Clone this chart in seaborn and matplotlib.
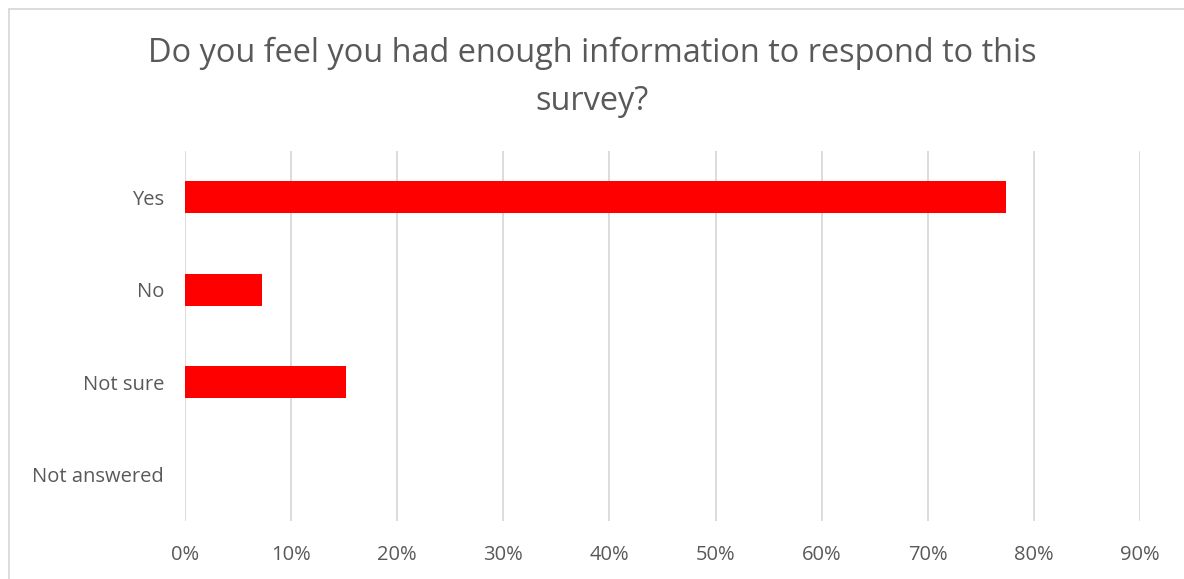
import matplotlib
matplotlib.use("Agg")
import matplotlib.pyplot as plt
import matplotlib.lines as mlines
import seaborn as sns
import pandas as pd

categories = ["Yes", "No", "Not sure", "Not answered"]
shares = [0.774, 0.073, 0.152, 0.0]
tick_values = [0.0, 0.1, 0.2, 0.3, 0.4, 0.5, 0.6, 0.7, 0.8, 0.9]
tick_labels = ["0%", "10%", "20%", "30%", "40%", "50%", "60%", "70%", "80%", "90%"]
title = "Do you feel you had enough information to respond to this\nsurvey?"

sns.set_theme(style="white")
plt.rcParams["font.family"] = ["Open Sans", "DejaVu Sans"]

W, H = 1184, 579
fig = plt.figure(figsize=(W / 100, H / 100), dpi=100)
fig.patch.set_facecolor("white")

# chart frame: left and top edges only
frame_x, frame_y = 8.5 / W, 1 - 8.5 / H
fig.add_artist(mlines.Line2D([frame_x, frame_x], [0, frame_y], transform=fig.transFigure,
                             color="#d9d9d9", linewidth=1.3))
fig.add_artist(mlines.Line2D([frame_x, 1], [frame_y, frame_y], transform=fig.transFigure,
                             color="#d9d9d9", linewidth=1.3))

ax = fig.add_axes([185 / W, 1 - 521 / H, (1140 - 185) / W, (521 - 151) / H])

df = pd.DataFrame({"category": categories, "share": shares})
sns.barplot(data=df, x="share", y="category", order=categories, color="#ff0000",
            saturation=1, width=0.35, ax=ax, orient="h", linewidth=0)

ax.set_xlim(0, 0.9)
ax.set_ylim(3.5, -0.5)
ax.set_xticks(tick_values)
ax.set_xticklabels(tick_labels)
ax.xaxis.grid(True, color="#d9d9d9", linewidth=1.3)
ax.set_axisbelow(True)
for s in ax.spines.values():
    s.set_visible(False)
ax.tick_params(axis="x", length=0, pad=17, labelsize=14.5, labelcolor="#595959")
ax.tick_params(axis="y", length=0, pad=15, labelsize=14.5, labelcolor="#595959")
ax.set_xlabel("")
ax.set_ylabel("")

fig.text(0.5, 1 - 77 / H, title, ha="center", va="center", fontsize=23.4,
         color="#595959", linespacing=1.6)

fig.savefig("out.png", dpi=100, facecolor="white")
